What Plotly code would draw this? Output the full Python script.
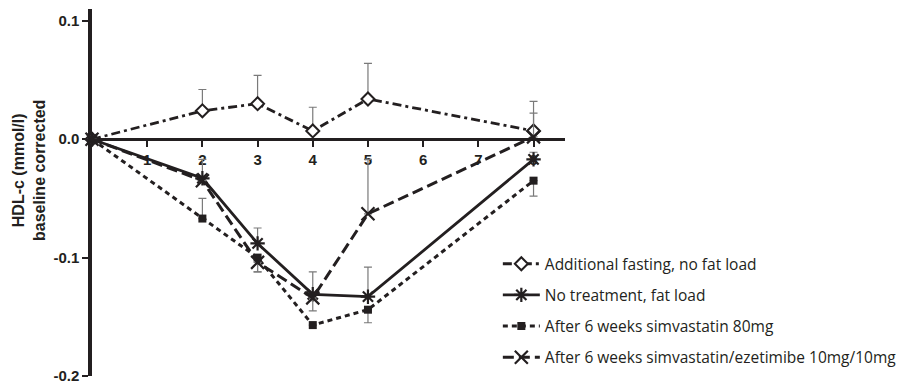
import plotly.graph_objects as go

# Time points (hours after fat load)
hours = [0, 2, 3, 4, 5, 8]

# HDL-c change from baseline (mmol/l), per condition
fasting_mean = [0.0, 0.024, 0.030, 0.007, 0.034, 0.007]
fasting_err_up = [0.0, 0.018, 0.024, 0.020, 0.030, 0.025]
fasting_err_dn = [0.0, 0.0, 0.0, 0.0, 0.0, 0.0]

notreat_mean = [0.0, -0.033, -0.088, -0.131, -0.133, -0.017]
notreat_err_up = [0.0, 0.016, 0.013, 0.019, 0.025, 0.006]
notreat_err_dn = [0.0, 0.0, 0.0, 0.0, 0.0, 0.0]

simva_mean = [0.0, -0.067, -0.100, -0.157, -0.144, -0.035]
simva_err_up = [0.0, 0.017, 0.0, 0.0, 0.0, 0.0]
simva_err_dn = [0.0, 0.0, 0.012, 0.0, 0.011, 0.013]

simeze_mean = [0.0, -0.035, -0.104, -0.134, -0.063, 0.002]
simeze_err_up = [0.0, 0.0, 0.0, 0.0, 0.046, 0.020]
simeze_err_dn = [0.0, 0.0, 0.008, 0.011, 0.0, 0.0]

series_names = [
    "Additional fasting, no fat load",
    "No treatment, fat load",
    "After 6 weeks simvastatin 80mg",
    "After 6 weeks simvastatin/ezetimibe 10mg/10mg",
]

x_ticks = [1, 2, 3, 4, 5, 6, 7, 8]
y_ticks = [0.1, 0.0, -0.1, -0.2]
y_ticklabels = ["0.1", "0.0", "-0.1", "-0.2"]

INK = "#231f20"
ERR = "#7a7a7a"


def err(up, dn):
    return dict(type="data", symmetric=False, array=up, arrayminus=dn,
                color=ERR, thickness=1.2, width=4)


styles = [
    dict(y=fasting_mean, e=err(fasting_err_up, fasting_err_dn),
         line=dict(color=INK, width=2.8, dash="9px,4px,3px,4px"),
         marker=dict(symbol="diamond", size=10, color="white",
                     line=dict(color=INK, width=2))),
    dict(y=notreat_mean, e=err(notreat_err_up, notreat_err_dn),
         line=dict(color=INK, width=2.8),
         marker=dict(symbol="asterisk-open", size=12, color=INK,
                     line=dict(color=INK, width=2.2))),
    dict(y=simva_mean, e=err(simva_err_up, simva_err_dn),
         line=dict(color=INK, width=3, dash="5px,4px"),
         marker=dict(symbol="square", size=8, color=INK,
                     line=dict(color=INK, width=0))),
    dict(y=simeze_mean, e=err(simeze_err_up, simeze_err_dn),
         line=dict(color=INK, width=3, dash="11px,5px"),
         marker=dict(symbol="x-thin-open", size=13, color=INK,
                     line=dict(color=INK, width=2.2))),
]

fig = go.Figure()
for i, (name, st) in enumerate(zip(series_names, styles)):
    fig.add_trace(go.Scatter(
        x=hours, y=st["y"], name=name, mode="lines+markers",
        line=st["line"], marker=st["marker"], error_y=st["e"],
        legendgroup=f"g{i}", cliponaxis=False,
    ))

y_min, y_max = -0.2, 0.11
x_axis_pos = (0 - y_min) / (y_max - y_min)

tick_font = dict(family="Liberation Sans", size=15, color=INK, weight="bold")

fig.update_layout(
    width=905, height=385,
    margin=dict(l=92, r=340, t=9, b=9, autoexpand=False),
    paper_bgcolor="white", plot_bgcolor="white",
    showlegend=True,
    legend=dict(
        x=0.858, y=0.351, xanchor="left", yanchor="top",
        font=dict(family="Open Sans", size=15.5, color=INK),
        tracegroupgap=8, itemwidth=37, bgcolor="rgba(0,0,0,0)",
        traceorder="grouped",
    ),
    xaxis=dict(
        range=[0, 8.57], anchor="free", position=x_axis_pos,
        showline=True, linecolor=INK, linewidth=3,
        tickvals=x_ticks, ticks="outside", ticklen=6, tickwidth=2,
        tickcolor=INK, showgrid=False, zeroline=False,
        tickfont=tick_font, layer="below traces",
    ),
    yaxis=dict(
        range=[y_min, y_max],
        showline=True, linecolor=INK, linewidth=3.5,
        tickvals=y_ticks, ticktext=y_ticklabels,
        ticks="outside", ticklen=6, tickwidth=2, tickcolor=INK,
        showgrid=False, zeroline=False,
        tickfont=tick_font, layer="below traces",
    ),
    annotations=[dict(
        text="HDL-c (mmol/l)<br>baseline corrected",
        xref="paper", yref="paper",
        x=(29 - 92) / 473, y=(376 - 170) / 367,
        xanchor="center", yanchor="middle", textangle=-90,
        showarrow=False,
        font=dict(family="Liberation Sans", size=16, color=INK,
                  weight="bold"),
    )],
)

fig.write_html("out.html")
